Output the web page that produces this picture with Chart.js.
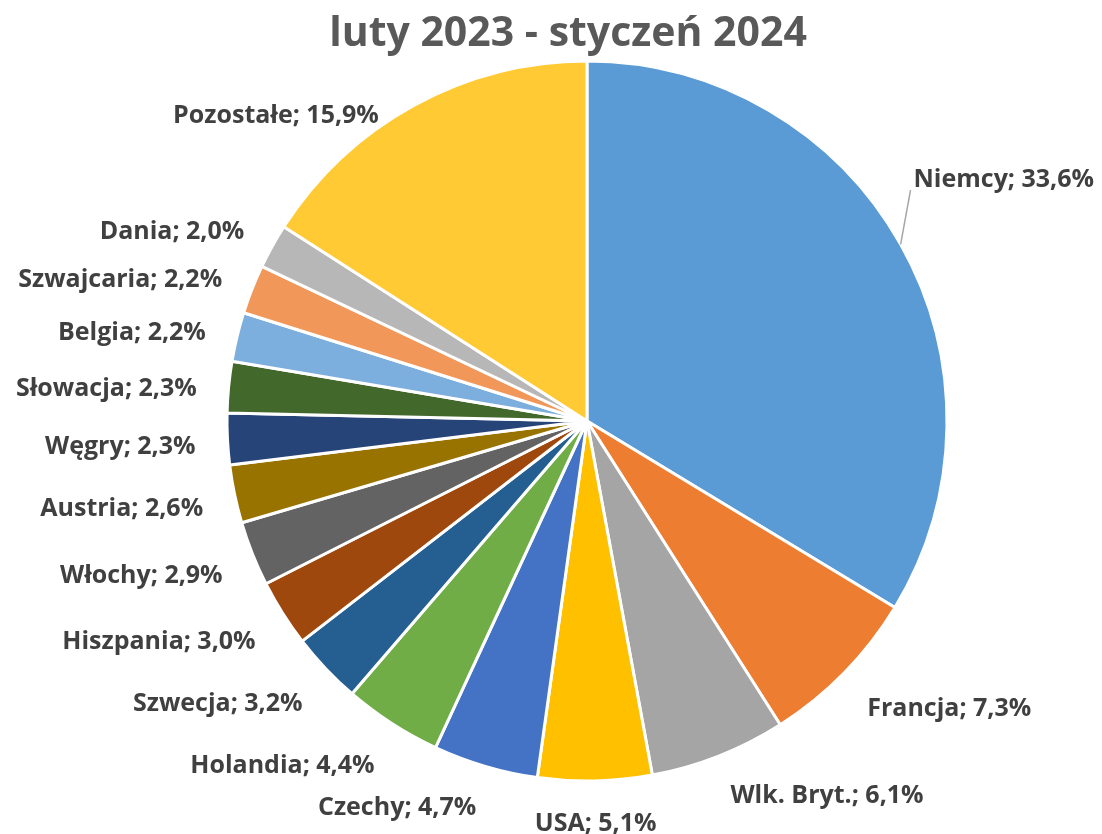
<!DOCTYPE html>
<html lang="pl">
<head>
  <meta charset="UTF-8" />
  <title>luty 2023 - styczeń 2024</title>
  <script src="https://cdn.jsdelivr.net/npm/chart.js"></script>
  <style>
    html, body { margin: 0; padding: 0; background: #fff; }
    #wrap { width: 1102px; height: 834px; }
  </style>
</head>
<body>
  <div id="wrap"><canvas id="pieChart"></canvas></div>

  <script>
    const chartTitle = 'luty 2023 - styczeń 2024';
    const countries = ['Niemcy', 'Francja', 'Wlk. Bryt.', 'USA', 'Czechy', 'Holandia', 'Szwecja', 'Hiszpania',
      'Włochy', 'Austria', 'Węgry', 'Słowacja', 'Belgia', 'Szwajcaria', 'Dania', 'Pozostałe'];
    const shares = [33.6, 7.3, 6.1, 5.1, 4.7, 4.4, 3.2, 3.0, 2.9, 2.6, 2.3, 2.3, 2.2, 2.2, 2.0, 15.9];
    const sliceColors = ['#5B9BD5', '#ED7D31', '#A5A5A5', '#FFC000', '#4472C4', '#70AD47', '#255E91', '#9E480E',
      '#636363', '#997300', '#264478', '#43682B', '#7CAFDD', '#F1975A', '#B7B7B7', '#FFCA33'];

    const labelFont = 'bold 25px "Open Sans", Lato, sans-serif';
    // manual nudges for labels Excel moved away from their default place
    const nudge = { 0: [-15, -49], 15: [-20, 42] };

    const fmt = v => v.toFixed(1).replace('.', ',') + '%';

    const labelPlugin = {
      id: 'sliceLabels',
      afterDatasetsDraw(chart) {
        const ctx = chart.ctx;
        const meta = chart.getDatasetMeta(0);
        ctx.save();
        ctx.font = labelFont;
        ctx.fillStyle = '#404040';
        ctx.textBaseline = 'middle';
        meta.data.forEach((arc, i) => {
          const mid = (arc.startAngle + arc.endAngle) / 2;
          const c = Math.cos(mid), s = Math.sin(mid);
          const R = arc.outerRadius + 32;
          let x = arc.x + R * c;
          let y = arc.y + R * s + s * 11;
          if (s < 0.9) y += 6;
          let align = 'center';
          if (c > 0.15) align = 'left';
          else if (c < -0.15) align = 'right';
          if (nudge[i]) {
            x += nudge[i][0];
            y += nudge[i][1];
            // leader line from the slice edge to the moved label
            ctx.strokeStyle = '#A6A6A6';
            ctx.lineWidth = 1.5;
            if (i === 0) {
              ctx.beginPath();
              ctx.moveTo(arc.x + arc.outerRadius * c, arc.y + arc.outerRadius * s);
              ctx.lineTo(x - 3, y + 10);
              ctx.stroke();
            }
          }
          ctx.textAlign = align;
          ctx.fillText(countries[i] + '; ' + fmt(shares[i]), x, y);
        });
        ctx.font = 'bold 41px "Open Sans", Lato, sans-serif';
        ctx.fillStyle = '#595959';
        ctx.textAlign = 'center';
        ctx.fillText(chartTitle, 568, 34);
        ctx.restore();
      }
    };

    new Chart(document.getElementById('pieChart'), {
      type: 'pie',
      data: {
        labels: countries,
        datasets: [{
          data: shares,
          backgroundColor: sliceColors,
          borderColor: '#ffffff',
          borderWidth: 3,
          radius: 360,
          hoverOffset: 0
        }]
      },
      options: {
        responsive: true,
        maintainAspectRatio: false,
        animation: false,
        events: [],
        layout: { padding: { top: 61, bottom: 53, left: 227, right: 155 } },
        plugins: {
          legend: { display: false },
          title: { display: false },
          tooltip: { enabled: false }
        }
      },
      plugins: [labelPlugin]
    });
  </script>
</body>
</html>
